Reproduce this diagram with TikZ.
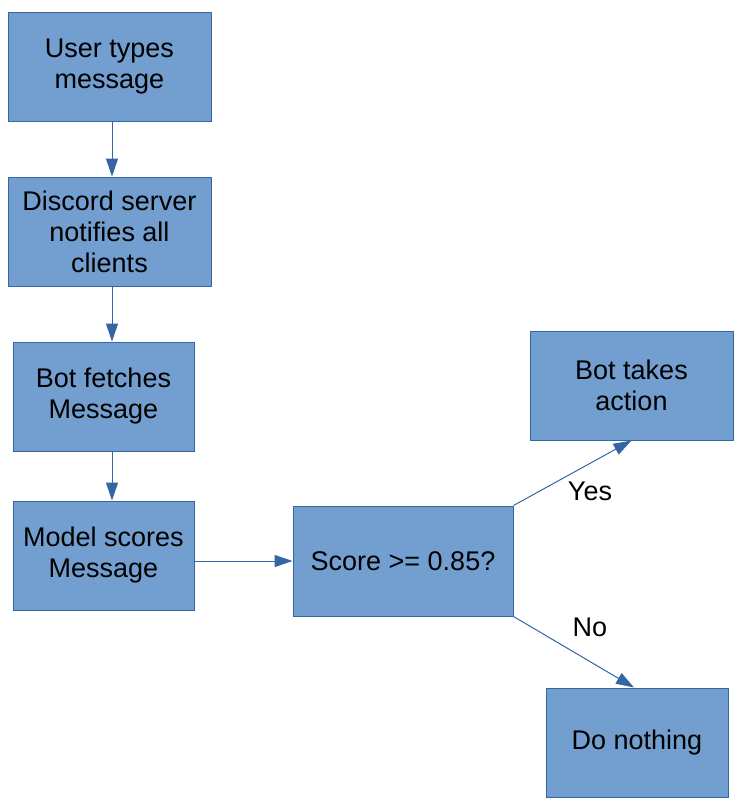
\documentclass[tikz,border=0pt]{standalone}
\usepackage{fontspec}
\setmainfont{Liberation Sans}
\usetikzlibrary{arrows.meta}
\definecolor{boxfill}{HTML}{729FCF}
\definecolor{boxline}{HTML}{3465A4}
\tikzset{
  stepbox/.style = {draw=boxline, fill=boxfill, line width=0.5pt, align=center,
    inner sep=0pt, font=\fontsize{13.5}{15.5}\selectfont},
  flow/.style = {draw=boxline, line width=0.5pt, -{Triangle[length=9pt,width=6pt]}},
  answer/.style = {font=\fontsize{13.5}{15.5}\selectfont}
}

\begin{document}
\begin{tikzpicture}[x = 0.5pt, y = -0.5pt]
            \useasboundingbox (0,0) rectangle (744,809);
            \coordinate (spine) at (112,0);
            \node[stepbox, minimum width=101.5pt, minimum height=54.5pt] (user) at (109.5,66.5) {User types\\ message};
            \node[stepbox, minimum width=101.5pt, minimum height=54.5pt] (discord) at (109.5,231.5) {Discord server\\ notifies all\\ clients};
            \node[stepbox, minimum width=90.5pt, minimum height=54.5pt] (fetch) at (103.5,396.5) {Bot fetches\\ Message};
            \node[stepbox, minimum width=90.5pt, minimum height=54.5pt] (model) at (103.5,555.5) {Model scores\\ Message};
            \node[stepbox, minimum width=110pt, minimum height=55pt] (score) at (403,561) {Score >= 0.85?};
            \node[stepbox, minimum width=101.5pt, minimum height=54.5pt] (action) at (631.5,385.5) {Bot takes\\ action};
            \node[stepbox, minimum width=91pt, minimum height=54.5pt] (nothing) at (637,742.5) {Do nothing};
            \draw[flow] (user.south -| spine) -- (discord.north -| spine);
            \draw[flow] (discord.south -| spine) -- (fetch.north -| spine);
            \draw[flow] (fetch.south -| spine) -- (model.north -| spine);
            \draw[flow] (model.east |- score) -- (score.west);
            \draw[flow] (score.north east) -- (action.south);
            \draw[flow] (score.south east) -- ([xshift=-1.5pt]nothing.north);
            \node[answer] (yes) at (590,491) {Yes};
            \node[answer] (no) at (590,627) {No};
        \end{tikzpicture}
\end{document}
